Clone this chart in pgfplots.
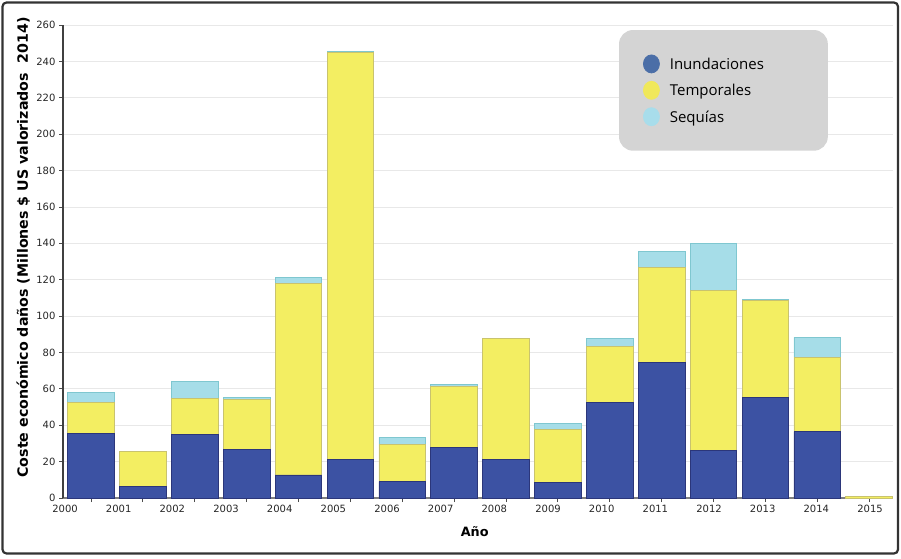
\documentclass[border=0pt]{standalone}
\usepackage{fontspec}
\setmainfont{DejaVu Sans}
\newfontfamily\legfont{Open Sans}
\usepackage{pgfplots}
\pgfplotsset{compat=1.18}

\definecolor{inund}{HTML}{3C52A3}
\definecolor{inundedge}{HTML}{2B367A}
\definecolor{temp}{HTML}{F3EE62}
\definecolor{tempedge}{HTML}{C9C36E}
\definecolor{seq}{HTML}{A6DDE8}
\definecolor{seqedge}{HTML}{7FC7D0}
\definecolor{leginund}{HTML}{4B6EA7}
\definecolor{legtemp}{HTML}{F0E85A}
\definecolor{legseq}{HTML}{A8DDEB}
\definecolor{leggray}{HTML}{D4D4D4}

\begin{document}
\begin{tikzpicture}
\useasboundingbox (0,0) rectangle (901pt,558pt);
\draw[line width=2.2pt, draw=black!80, rounded corners=4pt] (2.5pt,4.5pt) rectangle (898pt,555.5pt);
\begin{axis}[
  at={(63pt,60pt)}, anchor=south west,
  scale only axis, width=830pt, height=473pt,
  ybar stacked, bar width=0.9,
  xmin=-0.54, xmax=15.46,
  ymin=0, ymax=260,
  ytick={0,20,...,260},
  xtick={0,...,15}, xticklabels={},
  extra x ticks={-0.501,0.534,1.568,2.603,3.637,4.672,5.706,6.741,7.775,8.810,9.844,10.879,11.913,12.948,13.982,15.017},
  extra x tick labels={2000,2001,2002,2003,2004,2005,2006,2007,2008,2009,2010,2011,2012,2013,2014,2015},
  extra x tick style={major tick length=0pt, tick label style={yshift=-4pt}},
  axis lines=left,
  x axis line style={-, draw=black!50, line width=1.6pt},
  y axis line style={-, draw=black!75, line width=1.1pt},
  tick align=outside, major tick length=4pt,
  tick style={draw=black!70, line width=0.8pt},
  ymajorgrids, major grid style={draw=black!9, line width=0.8pt},
  /pgf/number format/assume math mode=true,
  tick label style={font=\fontsize{10}{12}\selectfont, text=black!85},
  xlabel={Año},
  ylabel={Coste económico daños (Millones \$ US valorizados\ \ 2014)},
  xlabel style={font=\bfseries\fontsize{12.8}{14}\selectfont, at={(axis description cs:0.496,-0.072)}, anchor=center},
  ylabel style={font=\bfseries\fontsize{14.2}{16}\selectfont, at={(axis description cs:-0.048,0.53)}, anchor=center, rotate=0},
  legend cell align=left,
  legend style={at={(axis description cs:0.6699,0.9894)}, anchor=north west,
    fill=leggray, draw=none, rounded corners=14pt, outer sep=0pt,
    inner xsep=24pt, inner ysep=24.5pt, row sep=7.5pt, column sep=10pt,
    font=\legfont\fontsize{15}{17}\selectfont,
    nodes={inner sep=0pt, text height=11pt, text depth=4pt}},
]
\addplot[fill=inund, draw=inundedge, line width=0.8pt,
  legend image code/.code={\fill[leginund] (8pt,2pt) ellipse (8pt and 9pt);}]
  coordinates {(0,35.5) (1,6.2) (2,34.7) (3,26.8) (4,12.7) (5,21.3) (6,9.0) (7,27.7)
    (8,21.3) (9,8.4) (10,52.7) (11,74.3) (12,26.1) (13,55.5) (14,36.5) (15,0)};
\addlegendentry{\makebox[134pt][l]{Inundaciones}}
\addplot[fill=temp, draw=tempedge, line width=0.8pt,
  legend image code/.code={\fill[legtemp] (8pt,2pt) ellipse (8pt and 9pt);}]
  coordinates {(0,17.2) (1,19.3) (2,19.8) (3,27.2) (4,105.3) (5,223.5) (6,20.2) (7,33.6)
    (8,66.2) (9,29.4) (10,30.8) (11,52.4) (12,88.2) (13,53.1) (14,40.8) (15,1.0)};
\addlegendentry{Temporales}
\addplot[fill=seq, draw=seqedge, line width=0.8pt,
  legend image code/.code={\fill[legseq] (8pt,2pt) ellipse (8pt and 9pt);}]
  coordinates {(0,5.3) (1,0) (2,9.6) (3,1.3) (4,3.3) (5,0.7) (6,4.2) (7,1.0)
    (8,0) (9,3.3) (10,4.2) (11,8.6) (12,25.6) (13,0.6) (14,11.0) (15,0)};
\addlegendentry{Sequías}
\end{axis}
\end{tikzpicture}
\end{document}
